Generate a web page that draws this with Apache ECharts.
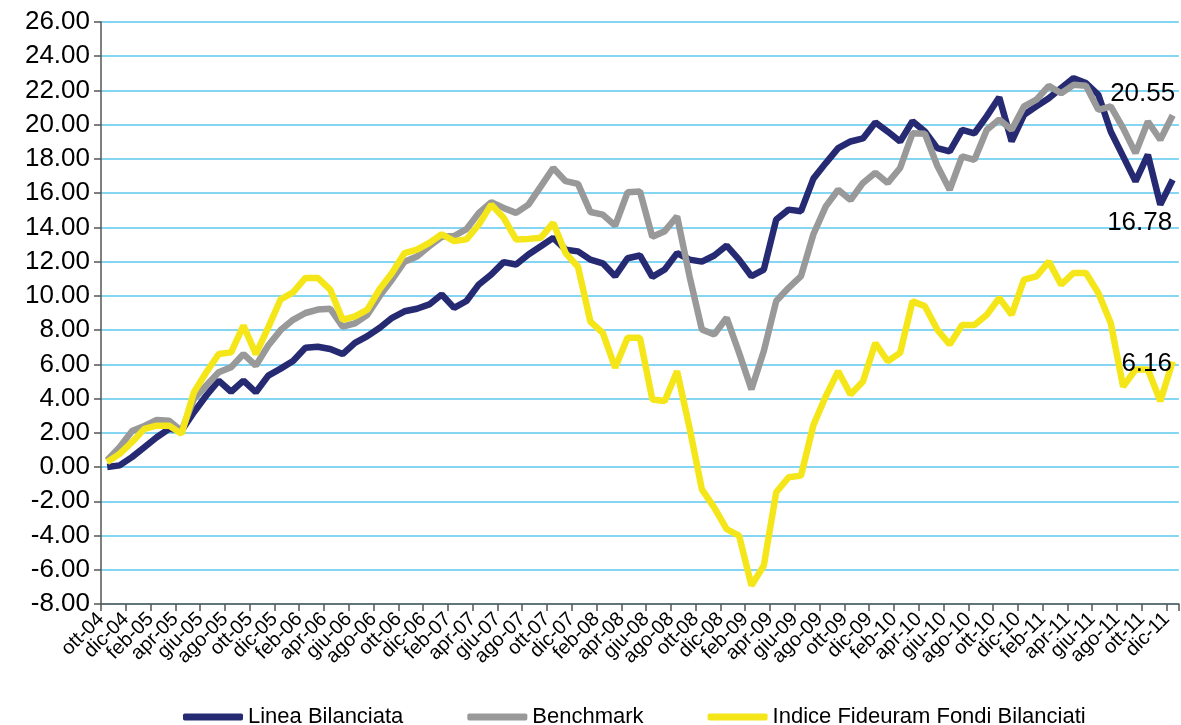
<!DOCTYPE html>
<html>
<head>
<meta charset="utf-8">
<script src="https://cdn.jsdelivr.net/npm/echarts@6/dist/echarts.min.js"></script>
<style>
  html, body { margin: 0; background: #fff; }
  #chart { width: 1181px; height: 725px; }
</style>
</head>
<body>
<div id="chart"></div>
<script>
const months = [
  'ott-04', 'nov-04', 'dic-04',
  'gen-05', 'feb-05', 'mar-05', 'apr-05', 'mag-05', 'giu-05', 'lug-05', 'ago-05', 'set-05', 'ott-05', 'nov-05', 'dic-05',
  'gen-06', 'feb-06', 'mar-06', 'apr-06', 'mag-06', 'giu-06', 'lug-06', 'ago-06', 'set-06', 'ott-06', 'nov-06', 'dic-06',
  'gen-07', 'feb-07', 'mar-07', 'apr-07', 'mag-07', 'giu-07', 'lug-07', 'ago-07', 'set-07', 'ott-07', 'nov-07', 'dic-07',
  'gen-08', 'feb-08', 'mar-08', 'apr-08', 'mag-08', 'giu-08', 'lug-08', 'ago-08', 'set-08', 'ott-08', 'nov-08', 'dic-08',
  'gen-09', 'feb-09', 'mar-09', 'apr-09', 'mag-09', 'giu-09', 'lug-09', 'ago-09', 'set-09', 'ott-09', 'nov-09', 'dic-09',
  'gen-10', 'feb-10', 'mar-10', 'apr-10', 'mag-10', 'giu-10', 'lug-10', 'ago-10', 'set-10', 'ott-10', 'nov-10', 'dic-10',
  'gen-11', 'feb-11', 'mar-11', 'apr-11', 'mag-11', 'giu-11', 'lug-11', 'ago-11', 'set-11', 'ott-11', 'nov-11', 'dic-11'
]

const lineaBilanciata = [
  0.00, 0.10, 0.58, 1.16, 1.74, 2.23, 2.13, 3.20, 4.18, 5.05, 4.40, 5.05, 4.37, 5.34, 5.75,
  6.20, 6.97, 7.03, 6.90, 6.60, 7.26, 7.65, 8.14, 8.72, 9.10, 9.25, 9.50,
  10.08, 9.30, 9.70, 10.67, 11.25, 11.97, 11.83, 12.42, 12.90, 13.39, 12.70, 12.60,
  12.12, 11.90, 11.15, 12.20, 12.36, 11.11, 11.54, 12.50, 12.12, 12.00, 12.36, 12.94,
  12.12, 11.15, 11.54, 14.46, 15.04, 14.95, 16.85, 17.76, 18.63, 19.02, 19.20, 20.13,
  19.60, 19.02, 20.20, 19.60, 18.63, 18.44, 19.70, 19.50, 20.50, 21.60, 19.02, 20.58,
  21.07, 21.55, 22.14, 22.72, 22.43, 21.75, 19.60, 18.15, 16.69, 18.25, 15.33, 16.78
]

const benchmark = [
  0.40, 1.16, 2.10, 2.40, 2.75, 2.70, 2.10, 3.98, 4.76, 5.54, 5.83, 6.60, 5.93, 7.10, 8.00,
  8.60, 9.00, 9.20, 9.25, 8.20, 8.40, 8.90, 10.00, 10.96, 12.00, 12.30, 12.90,
  13.45, 13.50, 13.90, 14.85, 15.47, 15.14, 14.85, 15.33, 16.40, 17.47, 16.70, 16.54,
  14.90, 14.75, 14.10, 16.05, 16.10, 13.45, 13.78, 14.65, 11.15, 8.04, 7.75, 8.72,
  6.68, 4.54, 6.78, 9.70, 10.47, 11.15, 13.60, 15.23, 16.20, 15.60, 16.60, 17.20,
  16.60, 17.47, 19.50, 19.47, 17.60, 16.20, 18.15, 17.95, 19.70, 20.30, 19.70, 21.07,
  21.46, 22.27, 21.84, 22.33, 22.27, 20.87, 21.07, 19.80, 18.34, 20.19, 19.12, 20.55
]

const indiceFideuram = [
  0.30, 0.77, 1.45, 2.23, 2.42, 2.42, 1.94, 4.37, 5.54, 6.60, 6.70, 8.26, 6.60, 8.16, 9.80,
  10.20, 11.05, 11.05, 10.37, 8.60, 8.80, 9.20, 10.40, 11.35, 12.50, 12.70, 13.10,
  13.60, 13.20, 13.30, 14.17, 15.33, 14.56, 13.30, 13.33, 13.40, 14.26, 12.50, 11.70,
  8.50, 7.84, 5.80, 7.55, 7.55, 3.95, 3.86, 5.60, 2.30, -1.30, -2.37, -3.63,
  -4.00, -6.92, -5.75, -1.47, -0.60, -0.50, 2.45, 4.14, 5.60, 4.24, 5.00, 7.25,
  6.18, 6.67, 9.68, 9.40, 8.03, 7.16, 8.30, 8.30, 8.90, 9.88, 8.90, 10.95,
  11.14, 12.00, 10.66, 11.34, 11.34, 10.17, 8.42, 4.70, 5.70, 5.70, 3.85, 6.16
]

const font = 'Liberation Sans, Arial, sans-serif'

// labels/ticks sit on month boundaries, one extra boundary after the last month
const boundaries = months.concat([''])

// points sit in the middle of each month
function toPoints(values) {
  return values.map((v, i) => [i + 0.5, v])
}

function endMark(values, offset) {
  const i = values.length - 1
  return {
    symbol: 'circle',
    symbolSize: 1,
    itemStyle: { color: 'rgba(0,0,0,0)' },
    label: {
      show: true,
      color: '#000',
      fontFamily: font,
      fontSize: 26,
      offset: offset,
      formatter: (p) => p.value.toFixed(2)
    },
    data: [{ coord: [i + 0.5, values[i]], value: values[i] }]
  }
}

function makeSeries(name, values, color, offset) {
  return {
    name: name,
    type: 'line',
    xAxisIndex: 1,
    data: toPoints(values),
    showSymbol: false,
    symbol: 'none',
    lineStyle: { color: color, width: 6.5 },
    itemStyle: { color: color },
    markPoint: endMark(values, offset)
  }
}

let myChart = echarts.init(document.getElementById('chart'))
myChart.setOption({
  animation: false,
  grid: { left: 101, right: 1, top: 22, bottom: 121 },
  legend: {
    left: 178,
    top: 701,
    icon: 'roundRect',
    itemWidth: 60,
    itemHeight: 7,
    itemGap: 64,
    textStyle: { fontFamily: font, fontSize: 22, color: '#000' }
  },
  xAxis: [
    {
      type: 'category',
      data: boundaries,
      boundaryGap: false,
      position: 'bottom',
      splitLine: { show: false },
      axisLine: { onZero: false, lineStyle: { color: '#555', width: 1.5 } },
      axisTick: { interval: 1, length: 7, lineStyle: { color: '#555', width: 1.5 } },
      axisLabel: {
        interval: 0,
        rotate: 45,
        margin: 12,
        color: '#000',
        fontFamily: font,
        fontSize: 20,
        formatter: (v, i) => (i % 2 === 0 ? v : '')
      }
    },
    {
      type: 'value',
      min: 0,
      max: months.length,
      show: false
    }
  ],
  yAxis: {
    type: 'value',
    min: -8,
    max: 26,
    interval: 2,
    axisLine: { show: true, lineStyle: { color: '#555', width: 1.5 } },
    axisTick: { show: true, length: 7, lineStyle: { color: '#555', width: 1.5 } },
    splitLine: { lineStyle: { color: '#5cc8ee', width: 1.5 } },
    axisLabel: {
      margin: 11,
      color: '#000',
      fontFamily: font,
      fontSize: 26,
      formatter: (v) => v.toFixed(2)
    }
  },
  series: [
    makeSeries('Linea Bilanciata', lineaBilanciata, '#262a72', [-33, 43]),
    makeSeries('Benchmark', benchmark, '#999999', [-30, -21]),
    makeSeries('Indice Fideuram Fondi Bilanciati', indiceFideuram, '#f5e61a', [-26, 2])
  ]
})
</script>
</body>
</html>
